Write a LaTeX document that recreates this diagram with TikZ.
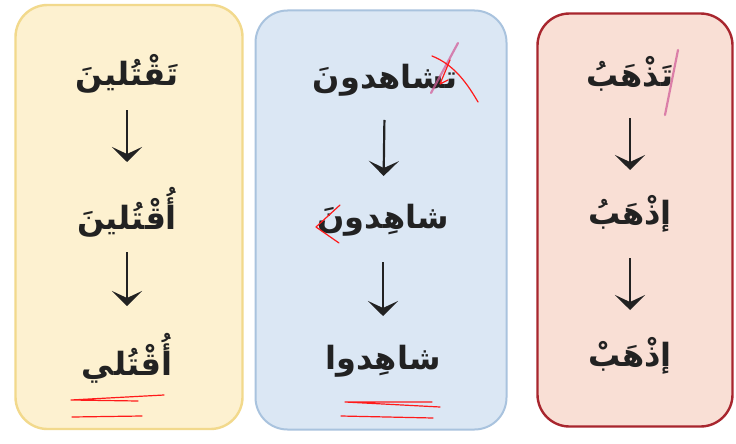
\documentclass[tikz,border=0pt]{standalone}
\usepackage{fontspec}
\newfontfamily\arabicfont[Script=Arabic]{DejaVu Sans}
\TeXXeTstate=1
\usetikzlibrary{arrows.meta}
\definecolor{yfill}{HTML}{FDF1D0}
\definecolor{yline}{HTML}{F2D98C}
\definecolor{bfill}{HTML}{DBE7F4}
\definecolor{bline}{HTML}{A9C3DE}
\definecolor{rfill}{HTML}{F9DFD5}
\definecolor{rline}{HTML}{A8262E}
\definecolor{ink}{HTML}{222222}
\definecolor{marker}{HTML}{FF1A1A}
\definecolor{pinkstrike}{HTML}{D2609A}
\tikzset{
  panel/.style={rounded corners=32pt, line width=2.4pt, inner sep=0pt},
  word/.style={font=\arabicfont\bfseries\fontsize{32}{38}\selectfont, text=ink, inner sep=2pt},
  downarrow/.style={draw=ink, line width=2.2pt, -{Stealth[length=15pt,width=30pt,inset=7pt]}},
  redpen/.style={draw=marker, line width=1.2pt, line cap=round, line join=round},
  pinkpen/.style={draw=pinkstrike, line width=2.2pt, opacity=0.75, line cap=round}
}
\begin{document}
\begin{tikzpicture}[x=1pt,y=-1pt]
\useasboundingbox (0,0) rectangle (736,444);
\fill[white] (0,0) rectangle (736,444);
% panels
\node[panel, fill=yfill, draw=yline, minimum width=227pt, minimum height=424pt] (p1) at (129,217) {};
\node[panel, fill=bfill, draw=bline, line width=2pt, minimum width=251pt, minimum height=419pt] (p2) at (381,220) {};
\node[panel, fill=rfill, draw=rline, minimum width=195pt, minimum height=413pt] (p3) at (635,220) {};
% column 1
\node[word] (a1) at (127,74) {\beginR تَقْتُلينَ\endR};
\node[word] (a2) at (127,212) {\beginR أُقْتُلينَ\endR};
\node[word] (a3) at (127,358) {\beginR أُقْتُلي\endR};
\draw[downarrow, shorten <=36pt, shorten >=50pt] (a1.center) -- (a2.center);
\draw[downarrow, shorten <=40pt, shorten >=52pt] (a2.center) -- (a3.center);
% column 2
\node[word] (b1) at (385,80) {\beginR تشاهدونَ\endR};
\node[word] (b2) at (383,220) {\beginR شاهِدونَ\endR};
\node[word] (b3) at (383,361) {\beginR شاهِدوا\endR};
\draw[downarrow, shorten <=40pt, shorten >=44pt] (b1.center) -- (b2.center);
\draw[downarrow, shorten <=42pt, shorten >=45pt] (b2.center) -- (b3.center);
% column 3
\node[word] (c1) at (630,74) {\beginR تَذْهَبُ\endR};
\node[word] (c2) at (630,214) {\beginR إذْهَبُ\endR};
\node[word] (c3) at (630,356) {\beginR إذْهَبْ\endR};
\draw[downarrow, shorten <=44pt, shorten >=44pt] (c1.center) -- (c2.center);
\draw[downarrow, shorten <=44pt, shorten >=46pt] (c2.center) -- (c3.center);
% pink strikes
\draw[pinkpen] (458,43) -- (431,93);
\draw[pinkpen] (678,50) -- (665,115);
% red pen marks
\draw[redpen] (432,56) .. controls (455,65) and (468,85) .. (478,102);
\draw[redpen] (450,60) -- (440,84) -- (448,80);
\draw[redpen] (340,205) -- (316,227) -- (339,243);
\draw[redpen] (164,395) -- (71,400) -- (138,401);
\draw[redpen] (72,417) -- (142,416);
\draw[redpen] (432,402) -- (345,402) -- (440,407);
\draw[redpen] (341,416) -- (433,418);
\end{tikzpicture}
\end{document}
